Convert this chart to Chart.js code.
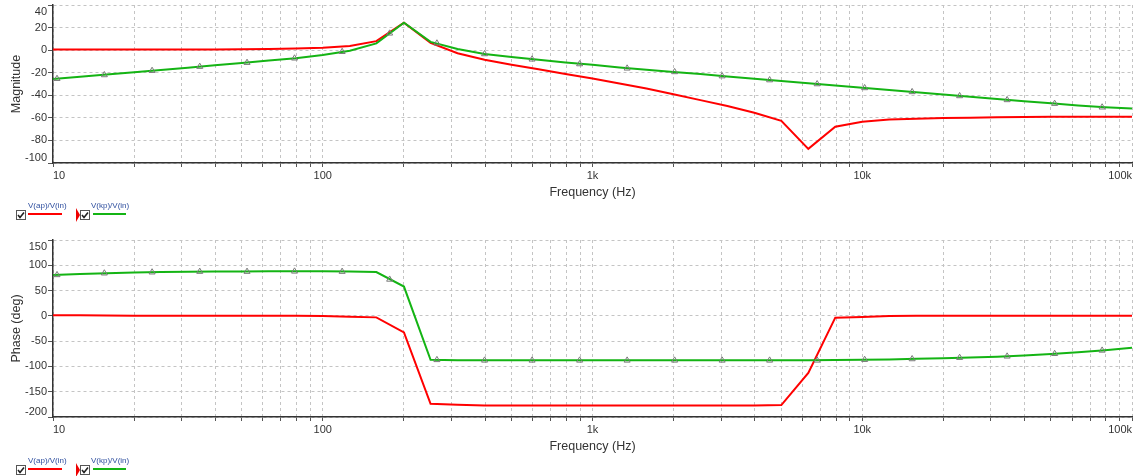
<!DOCTYPE html>
<html>
<head>
<meta charset="utf-8">
<script src="https://cdn.jsdelivr.net/npm/chart.js@4.4.0/dist/chart.umd.min.js"></script>
<style>
  body { margin: 0; background: #fff; width: 1140px; height: 476px; position: relative; overflow: hidden;
         font-family: "Liberation Sans", Arial, sans-serif; }
  canvas { position: absolute; left: 0; }
  #mag { top: 0; }
  #phase { top: 230px; }
  .leg { position: absolute; left: 16px; width: 130px; height: 22px; }
  .leg svg { position: absolute; top: 8px; }
  .leg .lbl { position: absolute; top: -1px; font-size: 8px; color: #2f4f9f; white-space: nowrap; }
  .leg .ul { position: absolute; top: 11px; height: 2px; }
  .leg .tri { position: absolute; left: 60px; top: 6px; width: 0; height: 0;
              border-left: 4px solid #e00; border-top: 7px solid transparent; border-bottom: 7px solid transparent; }
</style>
</head>
<body>
<canvas id="mag" width="1140" height="230"></canvas>
<canvas id="phase" width="1140" height="246"></canvas>

<div class="leg" style="top:202px">
  <svg width="10" height="10" style="left:0"><rect x="0.5" y="0.5" width="9" height="9" fill="#fff" stroke="#555"/><path d="M2 5 L4 7.5 L8 2.5" stroke="#222" stroke-width="1.6" fill="none"/></svg>
  <span class="lbl" style="left:12px">V(ap)/V(in)</span><span class="ul" style="left:12px;width:34px;background:#f00"></span>
  <span class="tri"></span>
  <svg width="10" height="10" style="left:64px"><rect x="0.5" y="0.5" width="9" height="9" fill="#fff" stroke="#555"/><path d="M2 5 L4 7.5 L8 2.5" stroke="#222" stroke-width="1.6" fill="none"/></svg>
  <span class="lbl" style="left:75px">V(kp)/V(in)</span><span class="ul" style="left:77px;width:33px;background:#14b414"></span>
</div>
<div class="leg" style="top:457px">
  <svg width="10" height="10" style="left:0"><rect x="0.5" y="0.5" width="9" height="9" fill="#fff" stroke="#555"/><path d="M2 5 L4 7.5 L8 2.5" stroke="#222" stroke-width="1.6" fill="none"/></svg>
  <span class="lbl" style="left:12px">V(ap)/V(in)</span><span class="ul" style="left:12px;width:34px;background:#f00"></span>
  <span class="tri"></span>
  <svg width="10" height="10" style="left:64px"><rect x="0.5" y="0.5" width="9" height="9" fill="#fff" stroke="#555"/><path d="M2 5 L4 7.5 L8 2.5" stroke="#222" stroke-width="1.6" fill="none"/></svg>
  <span class="lbl" style="left:75px">V(kp)/V(in)</span><span class="ul" style="left:77px;width:33px;background:#14b414"></span>
</div>

<script>
// simulation frequencies (Hz), 10 points per decade
const freqs = [10, 12.6, 15.8, 20, 25.1, 31.6, 39.8, 50.1, 63.1, 79.4,
  100, 126, 158, 200, 251, 316, 398, 501, 631, 794,
  1000, 1259, 1585, 1995, 2512, 3162, 3981, 5012, 6310, 7943,
  10000, 12589, 15849, 19953, 25119, 31623, 39811, 50119, 63096, 79433, 100000];

// magnitude (dB)
const magAp = [0.6, 0.6, 0.6, 0.6, 0.6, 0.6, 0.6, 0.7, 1.1, 1.5,
  2.2, 3.6, 8.0, 24.3, 6.5, -2.8, -8.5, -12.9, -17.0, -21.1,
  -25.2, -29.5, -34.0, -39.0, -44.3, -49.5, -55.5, -62.7, -87.5, -67.8,
  -63.4, -61.5, -60.7, -60.2, -59.8, -59.4, -59.2, -59.1, -59.0, -59.0, -59.0];
const magKp = [-25.6, -23.6, -21.6, -19.6, -17.5, -15.5, -13.4, -11.3, -9.2, -7.1,
  -4.3, -0.6, 6.0, 24.3, 7.3, 1.0, -3.4, -6.0, -8.6, -10.9,
  -13.0, -15.3, -17.3, -19.3, -21.2, -23.3, -25.3, -27.3, -29.3, -31.4,
  -33.4, -35.4, -37.4, -39.4, -41.3, -43.3, -45.2, -47.1, -49.0, -50.6, -51.8];

// phase (deg)
const phAp = [1, 1, 0.5, 0, 0, 0, 0, 0, 0, 0,
  -0.5, -2, -3, -32.8, -174, -176, -177.5, -177.5, -177.5, -177.5,
  -177.5, -177.5, -177.5, -177.5, -177.5, -177.5, -177.5, -176.5, -113, -3.5,
  -2.5, -0.5, 0, 0, 0, 0, 0, 0, 0, 0, 0];
const phKp = [81, 82.7, 84.4, 85.6, 86.6, 87.3, 87.6, 87.8, 88.3, 88.3,
  88, 87.5, 86.5, 57.9, -86.8, -88, -88, -88, -88, -88,
  -88, -88, -88, -88, -88, -88, -88, -88, -88, -87.5,
  -86.8, -86.2, -85, -83.8, -82.5, -80.8, -78.5, -75.3, -72, -68, -63];

// triangle markers on the V(kp)/V(in) trace
const markFreqs = [10.35, 15.5, 23.3, 35, 52.4, 78.6, 118, 177, 265, 398, 597, 896,
  1344, 2016, 3024, 4536, 6804, 10206, 15309, 22963, 34445, 51667, 77500];
const markMag = [-25.3, -22.0, -18.2, -14.6, -11.1, -7.2, -1.4, 14.9, 6.1, -3.4, -8.1, -12.3,
  -16.1, -19.3, -23.0, -26.5, -30.0, -33.5, -37.0, -40.6, -44.1, -47.4, -50.6];
const markPh = [81, 84.3, 86.3, 87.5, 87.5, 88, 87.5, 72, -87, -88, -88, -88,
  -88, -88, -88, -88, -88, -86.7, -85.3, -82.7, -80, -74.9, -68.3];

// axis ticks
const freqTicks = [10, 100, 1000, 10000, 100000];
const freqLabels = ['10', '100', '1k', '10k', '100k'];
const magTicks = [40, 20, 0, -20, -40, -60, -80, -100];
const phTicks = [150, 100, 50, 0, -50, -100, -150, -200];

const RED = '#ff0000';
const GREEN = '#14b414';
const FONT = '"Liberation Sans", Arial, sans-serif';

const pts = (xs, ys) => xs.map((x, i) => ({ x, y: ys[i] }));

// every 1..9 x 10^n line for the log grid
const gridFreqs = [];
for (let d = 10; d < 100000; d *= 10) {
  for (let m = 1; m < 10; m++) gridFreqs.push(d * m);
}
gridFreqs.push(100000);

const panelText = {
  id: 'panelText',
  afterDraw(chart, args, opts) {
    const { ctx, chartArea: a, scales: { x, y } } = chart;
    ctx.save();
    ctx.fillStyle = '#333';
    ctx.font = '11px ' + FONT;
    ctx.textAlign = 'right';
    ctx.textBaseline = 'middle';
    opts.yTicks.forEach(v => {
      const py = Math.min(Math.max(y.getPixelForValue(v), a.top + 6.5), a.bottom - 5.5);
      ctx.fillText(String(v), a.left - 6, py);
    });
    freqTicks.forEach((v, i) => {
      ctx.textAlign = i === 0 ? 'left' : (i === freqTicks.length - 1 ? 'right' : 'center');
      ctx.fillText(freqLabels[i], x.getPixelForValue(v), a.bottom + 12.5);
    });
    ctx.font = '12.5px ' + FONT;
    ctx.textAlign = 'center';
    ctx.fillText('Frequency (Hz)', (a.left + a.right) / 2, a.bottom + 29.5);
    ctx.translate(17, (a.top + a.bottom) / 2);
    ctx.rotate(-Math.PI / 2);
    ctx.fillText(opts.yTitle, 0, 0);
    ctx.restore();
  }
};

function makePanel(id, lineAp, lineKp, marks, yMin, yMax, step, yTicks, yTitle, padTop, padBottom) {
  new Chart(document.getElementById(id), {
    type: 'line',
    data: {
      datasets: [
        { label: 'markers', data: pts(markFreqs, marks), showLine: false, order: 0,
          pointStyle: 'triangle', pointRadius: 3.5, pointBorderWidth: 1,
          pointBorderColor: '#7a7a7a', pointBackgroundColor: 'rgba(255,255,255,0)' },
        { label: 'V(kp)/V(in)', data: pts(freqs, lineKp), order: 1,
          borderColor: GREEN, borderWidth: 2, pointRadius: 0, tension: 0 },
        { label: 'V(ap)/V(in)', data: pts(freqs, lineAp), order: 2,
          borderColor: RED, borderWidth: 2, pointRadius: 0, tension: 0 }
      ]
    },
    options: {
      responsive: false,
      animation: false,
      layout: { padding: { left: 53, right: 8, top: padTop, bottom: padBottom } },
      plugins: {
        legend: { display: false },
        tooltip: { enabled: false },
        panelText: { yTicks, yTitle }
      },
      scales: {
        x: {
          type: 'logarithmic', min: 10, max: 100000,
          afterBuildTicks: s => { s.ticks = gridFreqs.map(v => ({ value: v })); },
          afterFit: s => { s.height = 0; },
          ticks: { display: false, autoSkip: false },
          grid: { color: '#c4c4c4', lineWidth: 1, tickLength: 4, tickColor: '#555' },
          border: { display: true, color: '#333', width: 1.5, dash: [3, 3] }
        },
        y: {
          min: yMin, max: yMax,
          ticks: { display: false, stepSize: step },
          afterFit: s => { s.width = 0; },
          grid: { color: '#c4c4c4', lineWidth: 1, tickLength: 5, tickColor: '#555' },
          border: { display: true, color: '#333', width: 1.5, dash: [3, 3] }
        }
      }
    },
    plugins: [panelText]
  });
}

makePanel('mag', magAp, magKp, markMag, -100, 40, 20, magTicks, 'Magnitude', 5, 67);
makePanel('phase', phAp, phKp, markPh, -200, 150, 50, phTicks, 'Phase (deg)', 10, 59);
</script>
</body>
</html>
